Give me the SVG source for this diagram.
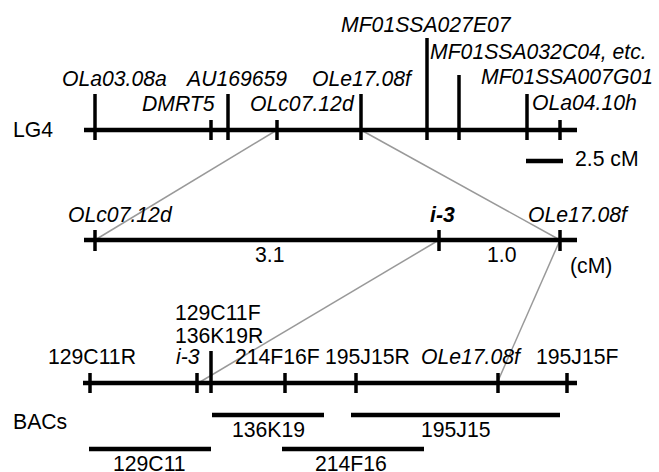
<svg xmlns="http://www.w3.org/2000/svg" width="659" height="472" viewBox="0 0 659 472">
<style>
text{font-family:"Liberation Sans",Arial,sans-serif;font-size:21.2px;fill:#000}
.i{font-style:italic}
.b{font-weight:bold}
.ax{stroke:#000;stroke-width:4.5;fill:none}
.tk{stroke:#000;stroke-width:3.5;fill:none}
.gr{stroke:#999;stroke-width:1.5;fill:none}
</style>
<rect width="659" height="472" fill="#fff"/>
<g id="connectors">
<line class="gr" x1="277" y1="130" x2="95" y2="240"/>
<line class="gr" x1="361" y1="130" x2="560" y2="240"/>
<line class="gr" x1="439" y1="240" x2="200" y2="382"/>
<line class="gr" x1="560" y1="240" x2="498" y2="381"/>
</g>
<g id="lg4">
<text x="13" y="137">LG4</text>
<line class="ax" x1="84" y1="130" x2="577" y2="130"/>
<line class="tk" x1="95" y1="94" x2="95" y2="140"/>
<line class="tk" x1="211" y1="120" x2="211" y2="140"/>
<line class="tk" x1="228" y1="94" x2="228" y2="140"/>
<line class="tk" x1="277" y1="120" x2="277" y2="140"/>
<line class="tk" x1="361" y1="94" x2="361" y2="140"/>
<line class="tk" x1="427" y1="38" x2="427" y2="140"/>
<line class="tk" x1="459" y1="75" x2="459" y2="140"/>
<line class="tk" x1="527" y1="94" x2="527" y2="140"/>
<line class="tk" x1="560" y1="120" x2="560" y2="140"/>
<text class="i" x="62" y="86">OLa03.08a</text>
<text class="i" x="142" y="111">DMRT5</text>
<text class="i" x="187" y="86">AU169659</text>
<text class="i" x="250" y="111">OLc07.12d</text>
<text class="i" x="312" y="86">OLe17.08f</text>
<text class="i" x="341" y="32">MF01SSA027E07</text>
<text class="i" x="430" y="59">MF01SSA032C04, etc.</text>
<text class="i" x="481" y="84">MF01SSA007G01</text>
<text class="i" x="532" y="110">OLa04.10h</text>
</g>
<g id="scale">
<line class="ax" x1="526" y1="161" x2="563" y2="161"/>
<text x="575" y="166">2.5 cM</text>
</g>
<g id="fine-map">
<line class="ax" x1="84" y1="240" x2="577" y2="240"/>
<line class="tk" x1="95" y1="230" x2="95" y2="251"/>
<line class="tk" x1="439" y1="230" x2="439" y2="251"/>
<line class="tk" x1="560" y1="230" x2="560" y2="251"/>
<text class="i" x="68" y="222">OLc07.12d</text>
<text class="i b" x="430" y="222">i-3</text>
<text class="i" x="528" y="222">OLe17.08f</text>
<text x="255" y="262">3.1</text>
<text x="487" y="262">1.0</text>
<text x="570" y="273">(cM)</text>
</g>
<g id="physical-map">
<line class="ax" x1="83" y1="383" x2="577" y2="383"/>
<line class="tk" x1="90" y1="373" x2="90" y2="393"/>
<line class="tk" x1="197" y1="373" x2="197" y2="393"/>
<line class="tk" x1="211" y1="351" x2="211" y2="393"/>
<line class="tk" x1="285" y1="373" x2="285" y2="393"/>
<line class="tk" x1="356" y1="373" x2="356" y2="393"/>
<line class="tk" x1="498" y1="373" x2="498" y2="393"/>
<line class="tk" x1="567" y1="373" x2="567" y2="393"/>
<text x="48" y="364">129C11R</text>
<text class="i" x="176" y="364">i-3</text>
<text x="175" y="320">129C11F</text>
<text x="175" y="343">136K19R</text>
<text x="235" y="364">214F16F</text>
<text x="325" y="364">195J15R</text>
<text class="i" x="421" y="364">OLe17.08f</text>
<text x="536" y="364">195J15F</text>
</g>
<g id="bacs">
<text x="13" y="429">BACs</text>
<g id="bac-136K19">
<line class="ax" x1="212" y1="415" x2="324" y2="415"/>
<text x="232" y="437">136K19</text>
</g>
<g id="bac-195J15">
<line class="ax" x1="351" y1="415" x2="560" y2="415"/>
<text x="421" y="437">195J15</text>
</g>
<g id="bac-129C11">
<line class="ax" x1="89" y1="449" x2="211" y2="449"/>
<text x="113" y="471">129C11</text>
</g>
<g id="bac-214F16">
<line class="ax" x1="282" y1="449" x2="424" y2="449"/>
<text x="315" y="471">214F16</text>
</g>
</g>
</svg>
